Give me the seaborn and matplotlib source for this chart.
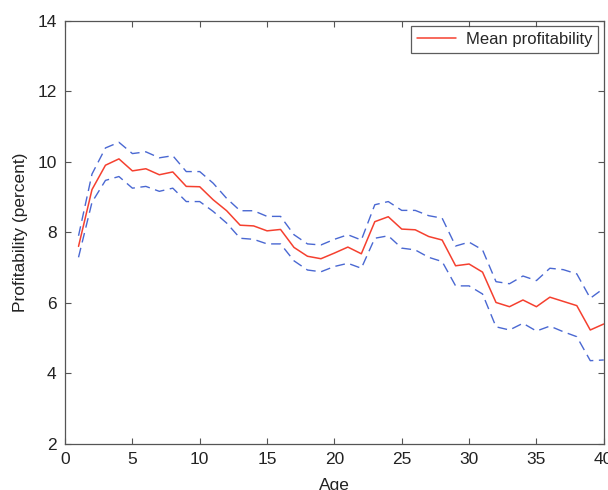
import numpy as np
import pandas as pd
import matplotlib
matplotlib.use("Agg")
import matplotlib.pyplot as plt
import seaborn as sns

# Firm age in years
age = list(range(1, 41))

# Mean profitability by age (percent)
mean_profit = [7.60, 9.21, 9.90, 10.08, 9.74, 9.80, 9.63, 9.71, 9.30, 9.29,
               8.92, 8.61, 8.20, 8.18, 8.04, 8.08, 7.57, 7.32, 7.25, 7.41,
               7.58, 7.39, 8.30, 8.44, 8.09, 8.07, 7.88, 7.78, 7.05, 7.10,
               6.87, 6.01, 5.89, 6.08, 5.89, 6.16, 6.04, 5.92, 5.23, 5.40]

# Upper confidence band
upper_band = [7.90, 9.65, 10.39, 10.55, 10.23, 10.28, 10.11, 10.17, 9.72, 9.72,
              9.39, 8.96, 8.61, 8.61, 8.45, 8.45, 7.93, 7.67, 7.64, 7.80,
              7.93, 7.78, 8.78, 8.87, 8.62, 8.62, 8.47, 8.40, 7.61, 7.72,
              7.50, 6.60, 6.54, 6.76, 6.63, 6.98, 6.94, 6.82, 6.13, 6.41]

# Lower confidence band
lower_band = [7.29, 8.85, 9.47, 9.58, 9.25, 9.30, 9.16, 9.25, 8.87, 8.87,
              8.59, 8.26, 7.83, 7.80, 7.67, 7.67, 7.19, 6.93, 6.88, 7.03,
              7.12, 6.98, 7.83, 7.90, 7.55, 7.50, 7.29, 7.17, 6.48, 6.48,
              6.25, 5.32, 5.23, 5.42, 5.20, 5.34, 5.18, 5.04, 4.36, 4.38]

x_ticks = [0, 5, 10, 15, 20, 25, 30, 35, 40]
y_ticks = [2, 4, 6, 8, 10, 12, 14]

df = pd.DataFrame({"Age": age, "mean": mean_profit,
                   "upper": upper_band, "lower": lower_band})

sns.set_theme(style="white")
plt.rcParams["font.family"] = ["Liberation Sans", "DejaVu Sans"]

fig = plt.figure(figsize=(6.08, 4.90), dpi=100)
ax = fig.add_axes([0.107, 0.094, 0.886, 0.864])

red = "#f5402f"
blue = "#4a68d2"

sns.lineplot(data=df, x="Age", y="mean", ax=ax, color=red, linewidth=1.1,
             label="Mean profitability")
sns.lineplot(data=df, x="Age", y="upper", ax=ax, color=blue, linewidth=1.0,
             dashes=False, label="_nolegend_")
sns.lineplot(data=df, x="Age", y="lower", ax=ax, color=blue, linewidth=1.0,
             dashes=False, label="_nolegend_")
for line in ax.lines[1:]:
    line.set_linestyle((0, (7, 4)))

ax.set_xlim(0, 40)
ax.set_ylim(2, 14)
ax.set_xticks(x_ticks)
ax.set_yticks(y_ticks)

ax.set_xlabel("Age", fontsize=12.5, color="#222222", labelpad=8)
ax.set_ylabel("Profitability (percent)", fontsize=12.5, color="#222222",
              labelpad=7)

for side in ["left", "right", "top", "bottom"]:
    ax.spines[side].set_visible(True)
    ax.spines[side].set_color("#555555")
    ax.spines[side].set_linewidth(0.9)

ax.tick_params(axis="both", which="major", direction="in", length=4.5,
               width=0.8, color="#555555", labelsize=12.5,
               labelcolor="#222222", top=True, right=True,
               bottom=True, left=True)
ax.tick_params(axis="x", pad=6)
ax.tick_params(axis="y", pad=6)

leg = ax.legend(loc="upper right", fontsize=12, frameon=True, fancybox=False,
                borderpad=0.35, handlelength=2.3, handletextpad=0.6,
                borderaxespad=0.35)
leg.get_frame().set_edgecolor("#333333")
leg.get_frame().set_linewidth(0.9)

fig.savefig("out.png", dpi=100, facecolor="white")
